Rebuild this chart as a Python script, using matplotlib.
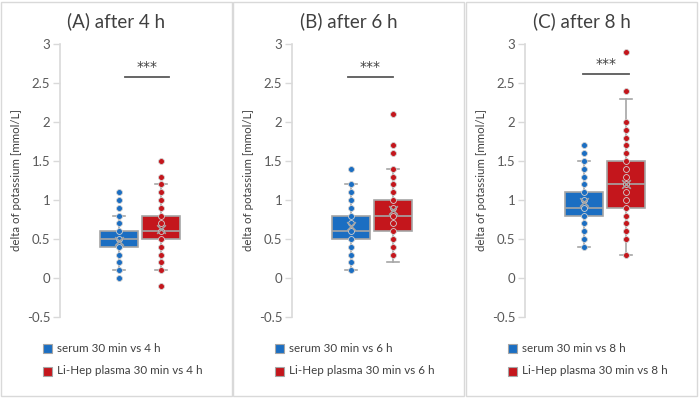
import matplotlib
matplotlib.use("Agg")
import matplotlib.pyplot as plt
from matplotlib.patches import Rectangle

plt.rcParams['font.family'] = ['Lato', 'DejaVu Sans']

# ---------------- data ----------------
titles = ["(A) after 4 h", "(B) after 6 h", "(C) after 8 h"]
legend_serum = ["serum 30 min vs 4 h", "serum 30 min vs 6 h", "serum 30 min vs 8 h"]
legend_lihep = ["Li-Hep plasma 30 min vs 4 h", "Li-Hep plasma 30 min vs 6 h",
                "Li-Hep plasma 30 min vs 8 h"]
ylabel = "delta of potassium [mmol/L]"
yticks = [-0.5, 0, 0.5, 1, 1.5, 2, 2.5, 3]
ytick_labels = ["-0.5", "0", "0.5", "1", "1.5", "2", "2.5", "3"]

# box statistics: whisker low, q1, median, q3, whisker high, mean
serum_stats = [
    dict(whislo=0.1, q1=0.4, med=0.5, q3=0.6, whishi=0.8, mean=0.48),
    dict(whislo=0.1, q1=0.5, med=0.6, q3=0.8, whishi=1.2, mean=0.67),
    dict(whislo=0.4, q1=0.8, med=0.9, q3=1.1, whishi=1.5, mean=0.97),
]
lihep_stats = [
    dict(whislo=0.1, q1=0.5, med=0.6, q3=0.8, whishi=1.2, mean=0.63),
    dict(whislo=0.2, q1=0.6, med=0.8, q3=1.0, whishi=1.4, mean=0.87),
    dict(whislo=0.3, q1=0.9, med=1.2, q3=1.5, whishi=2.3, mean=1.20),
]

# distinct data values shown as points
serum_4h = [0, 0.1, 0.2, 0.3, 0.4, 0.5, 0.6, 0.7, 0.8, 0.9, 1.0, 1.1]
lihep_4h = [-0.1, 0.1, 0.2, 0.3, 0.4, 0.5, 0.6, 0.7, 0.8, 0.9, 1.0, 1.1, 1.2, 1.3, 1.5]
serum_6h = [0.1, 0.2, 0.3, 0.4, 0.5, 0.6, 0.7, 0.8, 0.9, 1.0, 1.1, 1.2, 1.4]
lihep_6h = [0.3, 0.4, 0.5, 0.6, 0.7, 0.8, 0.9, 1.0, 1.1, 1.2, 1.3, 1.4, 1.6, 1.7, 2.1]
serum_8h = [0.4, 0.5, 0.6, 0.7, 0.8, 0.9, 1.0, 1.1, 1.2, 1.3, 1.4, 1.5, 1.6, 1.7]
lihep_8h = [0.3, 0.5, 0.6, 0.7, 0.8, 0.9, 1.0, 1.1, 1.2, 1.3, 1.4, 1.5, 1.6, 1.7,
            1.8, 1.9, 2.0, 2.4, 2.9]
serum_points = [serum_4h, serum_6h, serum_8h]
lihep_points = [lihep_4h, lihep_6h, lihep_8h]

significance = ["***", "***", "***"]
sig_span = [(1.15, 2.2), (0.93, 2.0), (0.98, 2.07)]
sig_y = [2.58, 2.58, 2.62]

# ---------------- style ----------------
BLUE = "#1B6EC2"
RED = "#C4161C"
EDGE = "#A6A6A6"
AXIS = "#D9D9D9"
TXT = "#595959"
DARK = "#404040"

W, H = 700, 398
fig = plt.figure(figsize=(7.0, 3.98), dpi=100)

panel_left = [1, 233, 466]
panel_w = 231

def fx(px):
    return px / W

def fy(py):
    return 1 - py / H

for i in range(3):
    pl = panel_left[i]
    fig.patches.append(Rectangle((fx(pl), fy(396)), fx(panel_w), (396 - 2) / H,
                                 transform=fig.transFigure, fill=False,
                                 edgecolor=AXIS, linewidth=1.0))
    ax_left = pl + 59
    ax = fig.add_axes([fx(ax_left), fy(317), fx(160), (317 - 44) / H])
    ax.patch.set_alpha(0)

    for pos, stats, pts, col in [(1, serum_stats[i], serum_points[i], BLUE),
                                 (2, lihep_stats[i], lihep_points[i], RED)]:
        st = dict(stats)
        st["fliers"] = []
        ax.bxp([st], positions=[pos], widths=[0.9], capwidths=[0.3],
               patch_artist=True, showmeans=False, showfliers=False,
               manage_ticks=False,
               boxprops=dict(facecolor=col, edgecolor=EDGE, linewidth=1.2),
               medianprops=dict(color=EDGE, linewidth=1.2),
               whiskerprops=dict(color=EDGE, linewidth=1.2),
               capprops=dict(color=EDGE, linewidth=1.2))
        ax.scatter([pos] * len(pts), pts, s=18, facecolor=col,
                   edgecolor="#D0D0D0", linewidth=0.6, zorder=4)
        ax.scatter([pos], [stats["mean"]], marker="x", s=38, color=EDGE,
                   linewidth=1.2, zorder=5)

    ax.set_ylim(-0.5, 3)
    ax.set_xlim(-0.405, 3.405)
    for s in ["top", "right", "bottom"]:
        ax.spines[s].set_visible(False)
    ax.spines["left"].set_color(AXIS)
    ax.spines["left"].set_linewidth(1.2)
    ax.set_xticks([])
    ax.set_yticks(yticks)
    ax.set_yticklabels(ytick_labels)
    ax.tick_params(axis="y", colors=AXIS, labelcolor=TXT, labelsize=9.5,
                   length=5, width=1, pad=2)
    ax.set_ylabel(ylabel, fontsize=8.3, color=DARK)
    ax.yaxis.set_label_coords(-0.235, 0.5)

    x0, x1 = sig_span[i]
    ax.plot([x0, x1], [sig_y[i], sig_y[i]], color=TXT, linewidth=1.3,
            clip_on=False)
    ax.text((x0 + x1) / 2, sig_y[i] + 0.04, significance[i], ha="center",
            va="bottom", fontsize=10, color=DARK, family="DejaVu Sans")

    fig.text(fx(pl + panel_w / 2), fy(21), titles[i], ha="center",
             va="center", fontsize=13.5, color=DARK)

    for k, (lab, col) in enumerate([(legend_serum[i], BLUE),
                                    (legend_lihep[i], RED)]):
        yy = 348 + 23 * k
        fig.patches.append(Rectangle((fx(pl + 42), fy(yy + 4.5)), fx(9), 9 / H,
                                     transform=fig.transFigure,
                                     facecolor=col, edgecolor=EDGE,
                                     linewidth=0.8))
        fig.text(fx(pl + 56), fy(yy), lab, ha="left", va="center",
                 fontsize=8.4, color=DARK)

fig.savefig("out.png", dpi=100)
